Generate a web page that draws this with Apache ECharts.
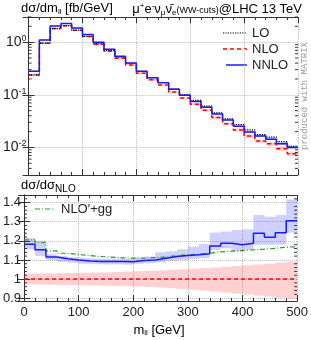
<!DOCTYPE html>
<html><head><meta charset="utf-8">
<script src="https://cdn.jsdelivr.net/npm/echarts@6/dist/echarts.min.js"></script>
<style>html,body{margin:0;padding:0;background:#fff}#c{width:311px;height:340px}</style>
</head><body><div id="c"></div>
<script>
// ---- data ----
const binLow = [0,20,40,60,80,100,120,140,160,180,200,220,240,260,280,300,320,340,360,380,400,420,440,460,480];
const binWidth = 20;
const lo   = [0.238,0.954,1.81,2.05,1.68,1.29,0.934,0.698,0.517,0.393,0.279,0.211,0.171,0.1295,0.1013,0.0785,0.0612,0.0454,0.0351,0.0273,0.0215,0.0176,0.0157,0.0129,0.0105];
const nlo  = [0.238,0.954,1.81,2.05,1.68,1.28,0.916,0.671,0.492,0.367,0.256,0.192,0.153,0.1136,0.0873,0.0665,0.0510,0.0369,0.0281,0.0215,0.0165,0.0133,0.0117,0.0095,0.00763];
const nnlo = [0.281,1.10,2.02,2.27,1.85,1.40,1.00,0.733,0.537,0.400,0.281,0.211,0.170,0.127,0.098,0.0749,0.0578,0.0433,0.0334,0.0254,0.0196,0.0165,0.0143,0.0118,0.00996];
const nnloRatio   = [1.182,1.153,1.115,1.106,1.100,1.095,1.092,1.092,1.092,1.090,1.097,1.100,1.109,1.118,1.123,1.127,1.133,1.173,1.187,1.179,1.187,1.240,1.219,1.243,1.305];
const nnloRatioLo = [1.155,1.120,1.098,1.090,1.085,1.080,1.078,1.077,1.077,1.075,1.080,1.083,1.087,1.095,1.100,1.104,1.109,1.153,1.161,1.144,1.153,1.179,1.179,1.180,1.243];
const nnloRatioHi = [1.215,1.200,1.130,1.120,1.115,1.110,1.107,1.107,1.107,1.105,1.110,1.118,1.140,1.145,1.156,1.170,1.184,1.243,1.248,1.257,1.260,1.335,1.326,1.335,1.417];
const nloRatio    = [1,1,1,1,1,1,1,1,1,1,1,1,1,1,1,1,1,1,1,1,1,1,1,1,1];
const nloRatioLo  = [0.972,0.971,0.970,0.969,0.968,0.967,0.966,0.965,0.963,0.962,0.960,0.958,0.956,0.952,0.948,0.944,0.939,0.934,0.929,0.924,0.918,0.913,0.908,0.902,0.897];
const nloRatioHi  = [1.028,1.029,1.030,1.031,1.032,1.033,1.034,1.035,1.037,1.039,1.041,1.043,1.045,1.048,1.051,1.054,1.057,1.060,1.064,1.068,1.072,1.076,1.080,1.086,1.092];
const ggRatio     = [1.205,1.190,1.147,1.135,1.128,1.123,1.118,1.115,1.111,1.109,1.109,1.112,1.115,1.123,1.127,1.130,1.135,1.142,1.146,1.150,1.153,1.156,1.161,1.167,1.169];
const topMinorTicks = [0.004,0.005,0.006,0.007,0.008,0.009,0.02,0.03,0.04,0.05,0.06,0.07,0.08,0.09,0.2,0.3,0.4,0.5,0.6,0.7,0.8,0.9,2,3];
const botMinorTicks = [0.92,0.94,0.96,0.98,1.02,1.04,1.06,1.08,1.12,1.14,1.16,1.18,1.22,1.24,1.26,1.28,1.32,1.34,1.36,1.38,1.42];
const xTickLabels = ['0','100','200','300','400','500'];

// ---- helpers ----
function stepData(vals){ const d = binLow.map((x,i)=>[x, vals[i]]); d.push([binLow[binLow.length-1]+binWidth, vals[vals.length-1]]); return d; }
function bandData(loA, hiA){ return binLow.map((x,i)=>[x, loA[i], hiA[i], x+binWidth]); }
function bandSeries(xi, yi, data, color){
  return {type:'custom', xAxisIndex:xi, yAxisIndex:yi, data:data, z:1, silent:true,
    renderItem:function(p, api){
      const a = api.coord([api.value(0), api.value(2)]);
      const b = api.coord([api.value(3), api.value(1)]);
      return {type:'rect', shape:{x:a[0], y:a[1], width:b[0]-a[0], height:b[1]-a[1]}, style:{fill:color}};
    }};
}
function minorTickSeries(xi, yi, vals){
  return {type:'custom', xAxisIndex:xi, yAxisIndex:yi, data:vals.map(v=>[v]), z:5, silent:true, clip:false,
    renderItem:function(p, api){
      const v = api.value(0);
      const l = api.coord([0, v]); const r = api.coord([500, v]);
      return {type:'group', children:[
        {type:'line', shape:{x1:l[0], y1:l[1], x2:l[0]+3, y2:l[1]}, style:{stroke:'#333', lineWidth:1}},
        {type:'line', shape:{x1:r[0], y1:r[1], x2:r[0]-3, y2:r[1]}, style:{stroke:'#333', lineWidth:1}}
      ]};
    }};
}
const nnloTopLo = nnlo.map((v,i)=>v*nnloRatioLo[i]/nnloRatio[i]);
const nnloTopHi = nnlo.map((v,i)=>v*nnloRatioHi[i]/nnloRatio[i]);
const nloTopLo = nlo.map((v,i)=>v*nloRatioLo[i]);
const nloTopHi = nlo.map((v,i)=>v*nloRatioHi[i]);

const FONT = 'Liberation Sans';
const axisLineS = {show:true, lineStyle:{color:'#333', width:1}};
const gridS = {show:true, lineStyle:{color:'#bbb', type:'dotted', width:1}};
function xAx(gi, pos, labels, grid){
  return {type:'value', gridIndex:gi, position:pos, min:0, max:500, interval:100,
    axisLine:axisLineS, axisTick:{show:true, inside:true, length:6, lineStyle:{color:'#333'}},
    minorTick:{show:true, splitNumber:5, length:3, lineStyle:{color:'#333'}},
    axisLabel:labels ? {show:true, fontFamily:FONT, fontSize:13, color:'#222', margin:5,
      formatter:function(v){ return xTickLabels[Math.round(v/100)]; }} : {show:false},
    splitLine: grid ? gridS : {show:false}};
}
const sup = {fontFamily:FONT, fontSize:9, color:'#222', padding:[0,0,7,0]};
const opt = {
  animation:false,
  grid:[{left:21, right:13, top:17, height:158},{left:21, right:13, top:195, height:106}],
  xAxis:[xAx(0,'bottom',false,true), xAx(0,'top',false,false), xAx(1,'bottom',true,true), xAx(1,'top',false,false)],
  yAxis:[
    {type:'log', logBase:10, gridIndex:0, position:'left', min:0.003, max:3,
      axisLine:axisLineS, axisTick:{show:true, inside:true, length:6, lineStyle:{color:'#333'}},
      axisLabel:{show:true, showMinLabel:false, showMaxLabel:false, margin:2,
        formatter:function(v){ const e = Math.round(Math.log10(v)); return '{b|10}{s|'+e+'}'; },
        rich:{b:{fontFamily:FONT, fontSize:14, color:'#222'}, s:sup}},
      splitLine:gridS},
    {type:'log', logBase:10, gridIndex:0, position:'right', min:0.003, max:3,
      axisLine:axisLineS, axisTick:{show:true, inside:true, length:6, lineStyle:{color:'#333'}},
      axisLabel:{show:false}, splitLine:{show:false}},
    {type:'value', gridIndex:1, position:'left', min:0.885, max:1.44, splitNumber:5,
      axisLine:axisLineS, axisTick:{show:true, inside:true, length:6, lineStyle:{color:'#333'}},
      axisLabel:{show:true, showMinLabel:false, showMaxLabel:false, margin:3, fontFamily:FONT, fontSize:13, color:'#222'},
      splitLine:gridS},
    {type:'value', gridIndex:1, position:'right', min:0.885, max:1.44, splitNumber:5,
      axisLine:axisLineS, axisTick:{show:true, inside:true, length:6, lineStyle:{color:'#333'}},
      axisLabel:{show:false}, splitLine:{show:false}}
  ],
  series:[
    bandSeries(0,0,bandData(nloTopLo,nloTopHi),'rgba(255,0,0,0.18)'),
    bandSeries(0,0,bandData(nnloTopLo,nnloTopHi),'rgba(40,40,255,0.22)'),
    {type:'line', xAxisIndex:0, yAxisIndex:0, step:'end', data:stepData(nlo), symbol:'none', z:3,
      lineStyle:{color:'#ff0000', width:1.5, type:[4,3]}},
    {type:'line', xAxisIndex:0, yAxisIndex:0, step:'end', data:stepData(lo), symbol:'none', z:4,
      lineStyle:{color:'#000', width:1.2, type:[1.2,1.2]}},
    {type:'line', xAxisIndex:0, yAxisIndex:0, step:'end', data:stepData(nnlo), symbol:'none', z:4,
      lineStyle:{color:'#1a1aff', width:1.5}},
    minorTickSeries(0,0,topMinorTicks),
    bandSeries(2,2,bandData(nloRatioLo,nloRatioHi),'rgba(255,0,0,0.18)'),
    bandSeries(2,2,bandData(nnloRatioLo,nnloRatioHi),'rgba(40,40,255,0.22)'),
    {type:'line', xAxisIndex:2, yAxisIndex:2, step:'end', data:stepData(nloRatio), symbol:'none', z:3,
      lineStyle:{color:'#ff0000', width:1.5, type:[4,3]}},
    {type:'line', xAxisIndex:2, yAxisIndex:2, step:'end', data:stepData(ggRatio), symbol:'none', z:3,
      lineStyle:{color:'#2a9a2a', width:1.2, type:[5,2,1,2]}},
    {type:'line', xAxisIndex:2, yAxisIndex:2, step:'end', data:stepData(nnloRatio), symbol:'none', z:4,
      lineStyle:{color:'#1a1aff', width:1.5}},
    minorTickSeries(2,2,botMinorTicks)
  ],
  graphic:[
    {type:'text', left:21, top:2, style:{text:'{a|dσ/dm}{sub|ll}{a| [fb/GeV]}',
      rich:{a:{fontFamily:FONT, fontSize:13, color:'#222'}, sub:{fontFamily:FONT, fontSize:8, color:'#222', padding:[6,0,0,0]}}}},
    {type:'text', right:9, top:2, style:{text:'{a|μ}{p|+}{a|e}{p|-}{a|ν}{sub|μ}{a|ν̄}{sub|e}{w|(WW-cuts)}{a|@LHC 13 TeV}',
      rich:{a:{fontFamily:FONT, fontSize:13, color:'#222'}, p:{fontFamily:FONT, fontSize:8, color:'#222', padding:[0,0,7,0]},
        sub:{fontFamily:FONT, fontSize:8, color:'#222', padding:[6,0,0,0]}, w:{fontFamily:FONT, fontSize:9, color:'#222', padding:[3,0,0,0]}}}},
    {type:'text', left:21, top:179, style:{text:'{a|dσ/dσ}{sub|NLO}',
      rich:{a:{fontFamily:FONT, fontSize:13, color:'#222'}, sub:{fontFamily:FONT, fontSize:10, color:'#222', padding:[7,0,0,0]}}}},
    {type:'text', x:159, y:330, style:{text:'{a|m}{sub|ll}{a| [GeV]}', align:'center', verticalAlign:'middle',
      rich:{a:{fontFamily:FONT, fontSize:13, color:'#222'}, sub:{fontFamily:FONT, fontSize:8, color:'#222', padding:[6,0,0,0]}}}},
    // top legend
    {type:'line', shape:{x1:223, y1:33, x2:247, y2:33}, style:{stroke:'#000', lineWidth:1.2, lineDash:[1.2,1.2]}},
    {type:'text', x:252, y:33, style:{text:'LO', fontFamily:FONT, fontSize:13, fill:'#222', verticalAlign:'middle'}},
    {type:'line', shape:{x1:223, y1:49, x2:247, y2:49}, style:{stroke:'#ff0000', lineWidth:1.5, lineDash:[4,3]}},
    {type:'text', x:252, y:49, style:{text:'NLO', fontFamily:FONT, fontSize:13, fill:'#222', verticalAlign:'middle'}},
    {type:'line', shape:{x1:226, y1:65, x2:247, y2:65}, style:{stroke:'#1a1aff', lineWidth:1.5}},
    {type:'text', x:252, y:65, style:{text:'NNLO', fontFamily:FONT, fontSize:13, fill:'#222', verticalAlign:'middle'}},
    // bottom legend
    {type:'line', shape:{x1:35, y1:209, x2:55, y2:209}, style:{stroke:'#2a9a2a', lineWidth:1.2, lineDash:[5,2,1,2]}},
    {type:'text', x:61, y:209, style:{text:'NLO′+gg', fontFamily:FONT, fontSize:13, fill:'#222', verticalAlign:'middle'}},
    // watermark
    {type:'text', x:305, y:96, rotation:Math.PI/2, style:{text:'produced with MATRIX', fontFamily:'Liberation Mono', fontSize:9, fill:'#999', align:'center', verticalAlign:'middle'}}
  ]
};
const chart = echarts.init(document.getElementById('c'), null, {renderer:'canvas'});
chart.setOption(opt);
</script></body></html>
